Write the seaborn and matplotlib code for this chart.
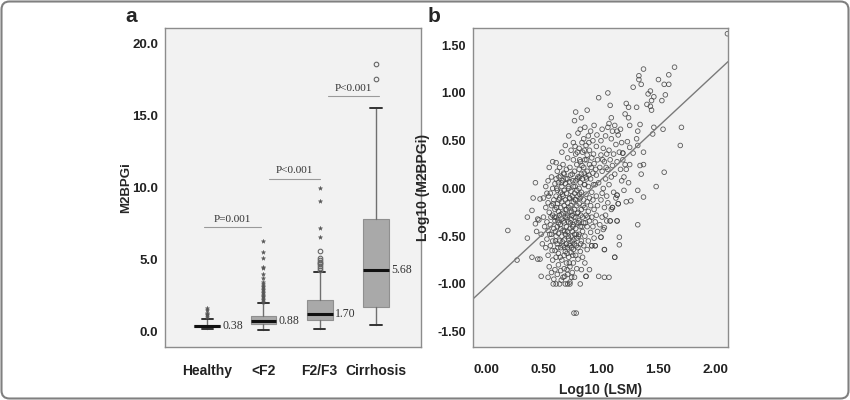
import matplotlib
matplotlib.use("Agg")
import matplotlib.pyplot as plt
from matplotlib.patches import FancyBboxPatch
from matplotlib.transforms import IdentityTransform
import seaborn as sns
import pandas as pd

# ---- panel a: M2BPGi by fibrosis stage (box stats) ----
groups = ['Healthy', '<F2', 'F2/F3', 'Cirrhosis']
box_q1 = [0.28, 0.52, 0.77, 1.65]
box_med = [0.35, 0.72, 1.21, 4.24]
box_q3 = [0.45, 1.08, 2.17, 7.83]
whisk_lo = [0.14, 0.05, 0.16, 0.42]
whisk_hi = [0.84, 1.95, 4.15, 15.5]
median_labels = ['0.38', '0.88', '1.70', '5.68']

star_fliers = [
    [1.0, 1.1, 1.2, 1.3, 1.45, 1.6],
    [2.05, 2.15, 2.25, 2.35, 2.45, 2.55, 2.65, 2.75, 2.85, 2.95, 3.05, 3.15,
     3.3, 3.45, 3.7, 4.0, 4.4, 4.5, 5.1, 5.5, 6.3],
    [6.57, 7.2, 9.04, 10.0],
    [],
]
circle_fliers = [
    [],
    [],
    [4.25, 4.4, 4.55, 4.65, 4.75, 4.85, 4.95, 5.1, 5.55],
    [17.57, 18.6],
]

# significance brackets: (left, right, height, text)
p_left = [-0.05, 1.1, 2.15]
p_right = [0.95, 2.0, 3.05]
p_height = [7.23, 10.6, 16.35]
p_text = ['P=0.001', 'P<0.001', 'P<0.001']

# ---- panel b: log10(LSM) vs log10(M2BPGi), points estimated from the figure ----
scatter_points = [
    # left fringe
    (0.19, -0.44), (0.27, -0.75), (0.36, -0.30), (0.36, -0.52), (0.40, -0.23),
    (0.40, -0.72), (0.43, 0.06), (0.43, -0.37), (0.45, -0.32), (0.45, -0.74),
    (0.47, -0.11), (0.47, -0.74), (0.48, -0.92), (0.41, -0.10), (0.44, -0.45),
    # 0.45 - 0.55
    (0.46, -0.33), (0.48, -0.48), (0.49, -0.58), (0.50, -0.10), (0.50, -0.30),
    (0.51, -0.40), (0.52, 0.02), (0.52, -0.20), (0.52, -0.62), (0.53, -0.05),
    (0.53, -0.35), (0.53, -0.53), (0.54, 0.08), (0.54, -0.15), (0.54, -0.44),
    (0.54, -0.70), (0.55, -0.25), (0.55, -0.82), (0.55, 0.22), (0.54, -0.93),
    # 0.56 - 0.60
    (0.56, -0.05), (0.56, -0.38), (0.56, -0.60), (0.57, 0.12), (0.57, -0.18),
    (0.57, -0.48), (0.57, -0.88), (0.58, 0.28), (0.58, 0.00), (0.58, -0.28),
    (0.58, -0.55), (0.58, -0.75), (0.59, -0.12), (0.59, -0.42), (0.59, -0.95),
    (0.60, 0.05), (0.60, -0.22), (0.60, -0.34), (0.60, -0.65), (0.60, -0.85),
    (0.585, -1.00), (0.61, -1.00),
    # 0.61 - 0.65
    (0.61, 0.27), (0.61, 0.10), (0.61, -0.08), (0.61, -0.30), (0.61, -0.50),
    (0.61, -0.72), (0.62, 0.18), (0.62, -0.02), (0.62, -0.16), (0.62, -0.40),
    (0.62, -0.58), (0.62, -0.90), (0.63, 0.06), (0.63, -0.24), (0.63, -0.36),
    (0.63, -0.47), (0.63, -0.68), (0.63, -0.80), (0.64, 0.22), (0.64, -0.10),
    (0.64, -0.28), (0.64, -0.55), (0.64, -1.00), (0.65, 0.13), (0.65, -0.04),
    (0.65, -0.20), (0.65, -0.42), (0.65, -0.62), (0.65, -0.86),
    # 0.66 - 0.70
    (0.66, 0.38), (0.66, 0.02), (0.66, -0.14), (0.66, -0.32), (0.66, -0.50),
    (0.66, -0.75), (0.67, 0.25), (0.67, 0.08), (0.67, -0.08), (0.67, -0.26),
    (0.67, -0.44), (0.67, -0.60), (0.67, -0.93), (0.68, 0.15), (0.68, -0.02),
    (0.68, -0.18), (0.68, -0.36), (0.68, -0.54), (0.68, -0.70), (0.68, -0.84),
    (0.69, 0.45), (0.69, 0.05), (0.69, -0.12), (0.69, -0.30), (0.69, -0.48),
    (0.69, -0.66), (0.69, -1.00), (0.70, 0.20), (0.70, -0.05), (0.70, -0.22),
    (0.70, -0.40), (0.70, -0.58), (0.70, -0.78),
    # 0.71 - 0.75
    (0.71, 0.32), (0.71, 0.10), (0.71, -0.15), (0.71, -0.28), (0.71, -0.45),
    (0.71, -0.62), (0.71, -0.90), (0.72, 0.55), (0.72, 0.00), (0.72, -0.20),
    (0.72, -0.35), (0.72, -0.52), (0.72, -0.72), (0.73, 0.22), (0.73, 0.07),
    (0.73, -0.10), (0.73, -0.25), (0.73, -0.42), (0.73, -0.60), (0.73, -0.82),
    (0.73, -0.98), (0.74, 0.40), (0.74, -0.03), (0.74, -0.18), (0.74, -0.33),
    (0.74, -0.50), (0.74, -0.67), (0.75, 0.15), (0.75, -0.08), (0.75, -0.28),
    (0.75, -0.45), (0.75, -0.56), (0.75, -0.88), (0.745, -0.93),
    # 0.76 - 0.80
    (0.76, 0.48), (0.76, 0.30), (0.76, 0.02), (0.76, -0.14), (0.76, -0.38),
    (0.76, -0.64), (0.76, -0.78), (0.77, 0.71), (0.77, 0.18), (0.77, -0.05),
    (0.77, -0.22), (0.77, -0.48), (0.77, -0.58), (0.77, -0.93), (0.78, 0.80),
    (0.78, 0.36), (0.78, 0.08), (0.78, -0.12), (0.78, -0.30), (0.78, -0.42),
    (0.78, -0.70), (0.79, 0.25), (0.79, -0.02), (0.79, -0.18), (0.79, -0.36),
    (0.79, -0.52), (0.79, -0.84), (0.80, 0.58), (0.80, 0.12), (0.80, -0.08),
    (0.80, -0.25), (0.80, -0.62), (0.80, -0.74), (0.765, -1.305), (0.785, -1.305),
    # 0.81 - 0.85
    (0.81, 0.42), (0.81, 0.20), (0.81, 0.00), (0.81, -0.16), (0.81, -0.34),
    (0.81, -0.48), (0.82, 0.62), (0.82, 0.28), (0.82, 0.06), (0.82, -0.10),
    (0.82, -0.40), (0.82, -0.66), (0.82, -1.00), (0.83, 0.74), (0.83, 0.15),
    (0.83, -0.04), (0.83, -0.22), (0.83, -0.55), (0.83, -0.85), (0.84, 0.38),
    (0.84, 0.10), (0.84, -0.30), (0.84, -0.45), (0.84, -0.72), (0.85, 0.52),
    (0.85, 0.22), (0.85, -0.12), (0.85, -0.36), (0.85, -0.60),
    # 0.86 - 0.90
    (0.86, 0.64), (0.86, 0.30), (0.86, 0.04), (0.86, -0.20), (0.86, -0.50),
    (0.86, -0.78), (0.87, 0.45), (0.87, 0.12), (0.87, -0.06), (0.87, -0.28),
    (0.87, -0.92), (0.88, 0.82), (0.88, 0.35), (0.88, 0.18), (0.88, -0.14),
    (0.88, -0.40), (0.88, -0.64), (0.89, 0.55), (0.89, 0.02), (0.89, -0.24),
    (0.89, -0.55), (0.90, 0.40), (0.90, 0.25), (0.90, -0.10), (0.90, -0.34),
    (0.90, -0.85),
    # 0.91 - 0.95
    (0.91, 0.60), (0.91, 0.10), (0.91, -0.18), (0.91, -0.46), (0.92, 0.32),
    (0.92, -0.04), (0.92, -0.30), (0.92, -0.60), (0.93, 0.50), (0.93, 0.16),
    (0.93, -0.12), (0.93, -0.40), (0.94, 0.66), (0.94, 0.26), (0.94, -0.22),
    (0.94, -0.52), (0.95, 0.04), (0.95, -0.35), (0.95, -0.60),
    # 0.96 - 1.00
    (0.96, 0.44), (0.96, 0.14), (0.96, -0.08), (0.96, -0.28), (0.97, 0.30),
    (0.97, -0.18), (0.97, -0.45), (0.98, 0.95), (0.98, 0.06), (0.98, -0.92),
    (0.99, 0.22), (0.99, -0.38), (1.00, 0.50), (1.00, -0.12), (1.00, -0.51),
    (1.00, 0.35),
    # 1.01 - 1.05
    (1.01, 0.62), (1.01, 0.18), (1.01, -0.05), (1.01, -0.30), (1.02, 0.42),
    (1.02, 0.00), (1.02, -0.43), (1.03, 0.28), (1.03, -0.20), (1.03, -0.41),
    (1.03, -0.64), (1.04, 0.55), (1.04, 0.10), (1.04, -0.28), (1.05, 0.36),
    (1.05, -0.08), (1.05, -0.34),
    # 1.06 - 1.10
    (1.06, 1.00), (1.06, 0.64), (1.06, 0.20), (1.06, -0.15), (1.07, 0.68),
    (1.07, 0.40), (1.07, 0.04), (1.07, -0.93), (1.08, 0.87), (1.08, 0.30),
    (1.08, -0.34), (1.09, 0.74), (1.09, 0.52), (1.09, 0.12), (1.09, -0.22),
    (1.10, 0.60), (1.10, -0.20), (1.10, 0.24),
    # 1.11 - 1.20
    (1.11, 0.36), (1.11, -0.04), (1.12, 0.66), (1.12, 0.15), (1.12, -0.72),
    (1.13, 0.46), (1.13, -0.10), (1.14, 0.60), (1.14, 0.28), (1.14, -0.07),
    (1.14, -0.34), (1.15, 0.56), (1.15, -0.16), (1.16, 0.38), (1.16, -0.59),
    (1.16, -0.51), (1.17, 0.20), (1.17, 0.62), (1.18, 0.08), (1.18, 0.48),
    (1.19, 0.37), (1.19, 0.30), (1.20, 0.12), (1.20, -0.02),
    # upper right and right outliers
    (1.21, 0.78), (1.22, 0.89), (1.24, 0.85), (1.24, 0.74), (1.25, 0.66),
    (1.28, 1.06), (1.31, 0.85), (1.32, 0.60), (1.33, 1.18), (1.33, 1.14),
    (1.34, 0.67), (1.35, 1.09), (1.37, 1.25), (1.40, 0.88), (1.41, 0.99),
    (1.43, 1.02), (1.43, 0.86), (1.44, 0.92), (1.44, 0.82), (1.46, 0.96),
    (1.50, 1.14), (1.53, 0.92), (1.55, 1.09), (1.56, 0.98), (1.59, 1.09),
    (1.59, 1.19), (1.64, 1.27), (1.70, 0.64), (1.69, 0.45), (1.54, 0.62),
    (1.46, 0.64), (1.45, 0.57), (1.55, 0.17), (1.48, 0.02), (1.37, -0.09),
    (1.32, -0.02), (1.32, -0.38), (1.26, -0.13), (1.22, -0.14), (1.24, 0.06),
    (1.35, 0.15), (1.37, 0.25), (1.34, 0.24), (1.37, 0.38), (1.28, 0.37),
    (1.21, 0.25), (1.25, 0.25), (1.32, 0.45), (1.25, 0.43), (1.23, 0.49),
    (1.31, 0.52), (1.22, 0.20), (1.19, 0.37), (2.10, 1.62),
    # lower right of the cloud
    (1.12, -0.72), (1.03, -0.93), (0.87, -0.92), (1.03, -0.64), (1.00, -0.51),
    (0.95, -0.60), (0.92, -0.60), (1.08, -0.34), (1.14, -0.34), (1.15, -0.16),
    (1.14, -0.07), (1.10, -0.20), (0.71, -1.00), (0.73, -1.00),
    # dense core, second pass (overlapping circles)
    (0.595, -0.30), (0.605, -0.45), (0.615, -0.20), (0.625, -0.33), (0.635, -0.12),
    (0.645, -0.38), (0.655, -0.27), (0.665, -0.06), (0.675, -0.34), (0.685, -0.45),
    (0.695, -0.22), (0.705, -0.30), (0.715, -0.50), (0.725, -0.10), (0.735, -0.36),
    (0.745, -0.24), (0.755, -0.40), (0.765, -0.30), (0.775, -0.12), (0.785, -0.48),
    (0.795, -0.26), (0.805, -0.36), (0.815, -0.06), (0.825, -0.28), (0.835, -0.40),
    (0.845, -0.18), (0.855, 0.04), (0.865, -0.36), (0.875, 0.10), (0.885, -0.30),
    (0.605, -0.55), (0.625, -0.62), (0.645, -0.72), (0.665, -0.56), (0.685, -0.62),
    (0.705, -0.68), (0.725, -0.58), (0.745, -0.62), (0.765, -0.54), (0.785, -0.60),
    (0.805, -0.50), (0.825, -0.58), (0.615, 0.00), (0.635, 0.12), (0.655, 0.06),
    (0.675, 0.16), (0.695, 0.10), (0.715, 0.02), (0.735, 0.14), (0.755, 0.08),
    (0.775, 0.02), (0.795, 0.10), (0.815, 0.12), (0.835, 0.24), (0.855, 0.16),
    (0.875, 0.30), (0.895, 0.14), (0.915, 0.22), (0.935, 0.04), (0.955, 0.20),
    (0.775, 0.44), (0.795, 0.38), (0.815, 0.30), (0.835, 0.48), (0.855, 0.40),
    (0.895, 0.48), (0.935, 0.36), (0.965, 0.56), (1.015, 0.30), (1.045, 0.22),
    (0.705, -0.85), (0.725, -0.78), (0.685, -0.92), (0.655, -0.96), (0.755, -0.70),
    (0.575, -0.65), (0.565, -0.30), (0.585, -0.16), (0.555, -0.48), (0.545, -0.08),
]

fit_intercept = -1.03
fit_slope = 1.12

# ---- styling ----
sns.set_theme(style="white")
plt.rcParams['font.family'] = ['Liberation Sans Narrow', 'Liberation Sans', 'DejaVu Sans']

bg = '#f2f2f2'
frame = '#8c8c8c'
fig = plt.figure(figsize=(8.5, 4.0), dpi=100)
fig.patch.set_facecolor('white')

ax_a = fig.add_axes([165 / 850, 1 - 347 / 400, 256 / 850, 319 / 400])
ax_b = fig.add_axes([473 / 850, 1 - 347 / 400, 255 / 850, 319 / 400])

for ax in (ax_a, ax_b):
    ax.set_facecolor(bg)
    for sp in ax.spines.values():
        sp.set_color(frame)
        sp.set_linewidth(1.0)
    ax.tick_params(axis='y', direction='out', length=3, width=0.8, color=frame,
                   pad=2, labelsize=9.5, labelcolor='#222222')
    ax.tick_params(axis='x', direction='out', length=8, width=0.8, color=frame,
                   pad=4, labelsize=9.5, labelcolor='#222222')

# ---- panel a ----
stats = []
for i, g in enumerate(groups):
    stats.append(dict(label=g, q1=box_q1[i], med=box_med[i], q3=box_q3[i],
                      whislo=whisk_lo[i], whishi=whisk_hi[i], fliers=[]))
positions = list(range(len(groups)))
ax_a.bxp(stats, positions=positions, widths=0.46, patch_artist=True,
         showfliers=False,
         boxprops=dict(facecolor='#a9a9a9', edgecolor='#8f8f8f', linewidth=0.8),
         medianprops=dict(color='#111111', linewidth=2.2),
         whiskerprops=dict(color='#707070', linewidth=1.0),
         capprops=dict(color='#333333', linewidth=1.4),
         capwidths=0.2)

for i in positions:
    if star_fliers[i]:
        ax_a.plot([i] * len(star_fliers[i]), star_fliers[i], linestyle='none',
                  marker='*', markersize=3.2, color='#555555', markeredgewidth=0.3)
    if circle_fliers[i]:
        ax_a.plot([i] * len(circle_fliers[i]), circle_fliers[i], linestyle='none',
                  marker='o', markersize=3.3, markerfacecolor='none',
                  markeredgecolor='#666666', markeredgewidth=0.8)
    ax_a.text(i + 0.27, box_med[i], median_labels[i], ha='left', va='center',
              fontsize=8.5, family='Liberation Serif', color='#333333')

for l, r, h, t in zip(p_left, p_right, p_height, p_text):
    ax_a.plot([l, r], [h, h], color='#9a9a9a', linewidth=0.8)
    ax_a.text((l + r) / 2, h + 0.25, t, ha='center', va='bottom',
              fontsize=8, family='Liberation Serif', color='#333333')

ax_a.set_xlim(-0.75, 3.8)
ax_a.set_ylim(-1.1, 21.1)
ax_a.set_yticks([0, 5, 10, 15, 20])
ax_a.set_yticklabels(['0.0', '5.0', '10.0', '15.0', '20.0'], fontweight='bold')
ax_a.set_xticks(positions)
ax_a.set_xticklabels(groups, fontweight='bold', fontsize=10)
ax_a.set_ylabel('M2BPGi', fontsize=9.5, fontweight='bold')
ax_a.yaxis.set_label_coords(-0.13, 0.5)
ax_a.set_xlabel('')

# ---- panel b ----
df = pd.DataFrame(scatter_points, columns=['log_lsm', 'log_m2bpgi'])
sns.scatterplot(data=df, x='log_lsm', y='log_m2bpgi', ax=ax_b, marker='o',
                facecolor='none', edgecolor='#3f3f3f', linewidth=0.6, s=11,
                alpha=0.85)
ax_b.axline((0, fit_intercept), slope=fit_slope, color='#7a7a7a', linewidth=1.0)
ax_b.set_xlim(-0.113, 2.105)
ax_b.set_ylim(-1.66, 1.68)
ax_b.set_xticks([0, 0.5, 1.0, 1.5, 2.0])
ax_b.set_xticklabels(['0.00', '0.50', '1.00', '1.50', '2.00'], fontweight='bold')
ax_b.set_yticks([-1.5, -1.0, -0.5, 0, 0.5, 1.0, 1.5])
ax_b.set_yticklabels(['-1.50', '-1.00', '-0.50', '0.00', '0.50', '1.00', '1.50'],
                     fontweight='bold', fontsize=9)
ax_b.set_xlabel('Log10 (LSM)', fontsize=10, fontweight='bold', labelpad=5)
ax_b.set_ylabel('Log10 (M2BPGi)', fontsize=10, fontweight='bold')
ax_b.yaxis.set_label_coords(-0.17, 0.5)

# panel letters
fig.text(131 / 850, 1 - 17 / 400, 'a', fontsize=15, fontweight='bold',
         ha='center', va='center', family='Liberation Sans')
fig.text(434 / 850, 1 - 17 / 400, 'b', fontsize=15, fontweight='bold',
         ha='center', va='center', family='Liberation Sans')

# rounded frame around the whole figure
fig.patches.append(FancyBboxPatch((1.5, 1.5), 847, 397,
                                  boxstyle='round,pad=0,rounding_size=8',
                                  transform=IdentityTransform(), fill=False,
                                  edgecolor='#808080', linewidth=1.5))

fig.savefig('out.png', dpi=100, facecolor='white')
